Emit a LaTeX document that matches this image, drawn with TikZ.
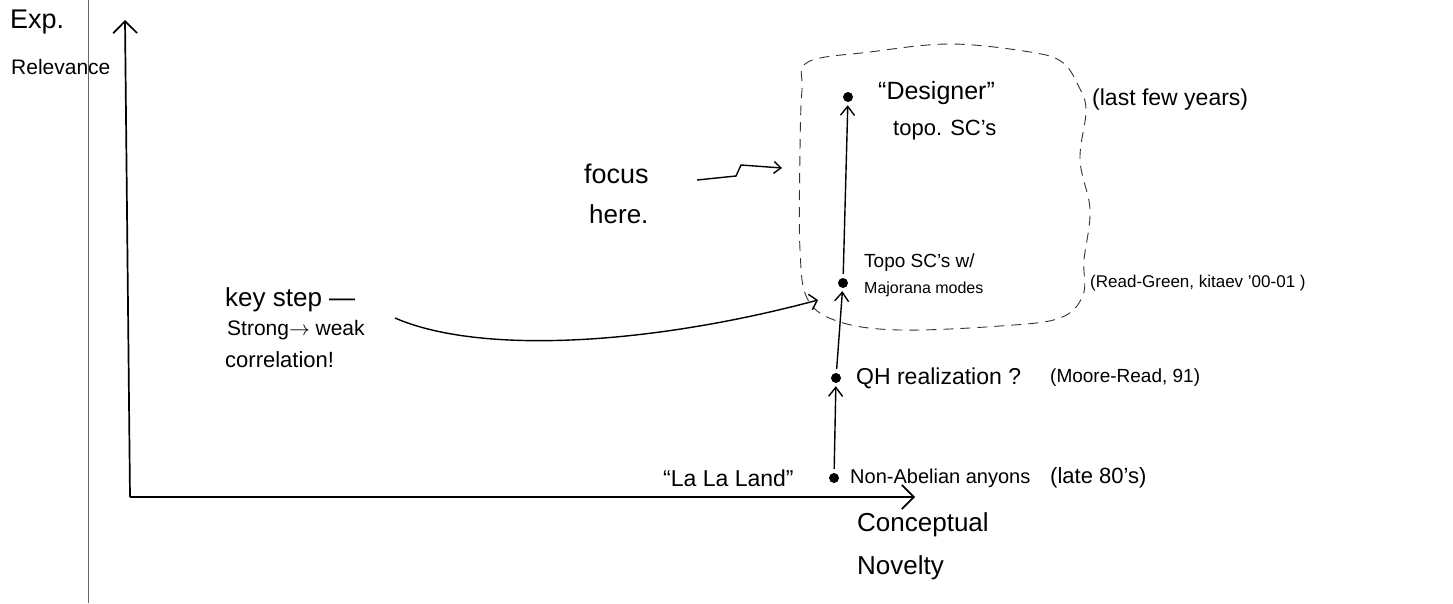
\documentclass[tikz,border=0pt]{standalone}
\usepackage{fontspec}
\setmainfont{Liberation Sans}
\usetikzlibrary{arrows.meta}
\newcommand{\fs}[1]{\fontsize{#1}{#1}\selectfont}
\begin{document}
\begin{tikzpicture}[x=1pt,y=-1pt,
  txt/.style={inner sep=0pt, anchor=west, font=\fs{18}},
  dot/.style={circle, fill=black, inner sep=0pt, minimum size=10pt},
  arr/.style={line width=1.4pt, shorten <=4pt, shorten >=3pt, -{Straight Barb[length=9pt,width=14pt]}},
  axis/.style={line width=1.7pt, -{Straight Barb[length=12pt,width=24pt]}},
  blob/.style={line width=0.9pt, dash pattern=on 10pt off 7pt, black!80}
]
\useasboundingbox (0,0) rectangle (1453,603);
\fill[white] (0,0) rectangle (1453,603);
% margin line
\draw[black!60, line width=0.8pt] (88,0) -- (88,603);

% axes
\coordinate (O) at (130,497);
\coordinate (ytop) at (125,20);
\coordinate (xend) at (915,497);
\draw[axis] (O) -- (ytop);
\draw[axis] (O) -- (xend);

\node[txt, font=\fs{27}] (exp) at (10,22) {Exp.};
\node[txt, font=\fs{21}] (rel) at (11,67) {Relevance};
\node[txt, font=\fs{26}] (conc) at (857,525) {Conceptual};
\node[txt, font=\fs{26}] (nov) at (857,568) {Novelty};
\node[txt, font=\fs{23}] (lala) at (663,478) {``La La Land''};

% dots
\node[dot] (na) at (834,478) {};
\node[dot] (qh) at (836,378) {};
\node[dot] (tsc) at (843,283) {};
\node[dot] (des) at (848,97) {};

\node[txt, font=\fs{20}] (natext) at (850,478) {Non-Abelian anyons};
\node[txt, font=\fs{22}] (late) at (1050,478) {(late 80's)};
\node[txt, font=\fs{23}] (qhtext) at (856,378) {QH realization ?};
\node[txt, font=\fs{19}] (mr) at (1050,378) {(Moore-Read, 91)};
\node[txt, font=\fs{19}] (tsctext1) at (864,263) {Topo SC's w/};
\node[txt, font=\fs{16}] (tsctext2) at (864,289) {Majorana modes};
\node[txt, font=\fs{17}] (rg) at (1090,283) {(Read-Green, kitaev '00-01 )};
\node[txt, font=\fs{25}] (destext1) at (878,93) {``Designer''};
\node[txt, font=\fs{22}] (destext2) at (893,130) {topo. SC's};
\node[txt, font=\fs{23}] (last) at (1092,100) {(last few years)};

\draw[arr] (na) -- (qh);
\draw[arr] (qh) -- (tsc);
\draw[arr] (tsc) -- (des);

% dashed focus region
\draw[blob] plot[smooth cycle, tension=0.6] coordinates {
  (808,62) (870,52) (950,44) (1030,52) (1062,62) (1078,85) (1086,110)
  (1080,160) (1090,210) (1084,260) (1083,295) (1060,318) (1000,326)
  (900,330) (840,322) (808,300) (800,250) (800,150) (802,90)};

% focus here
\node[txt, font=\fs{27}] (focus) at (584,174) {focus};
\node[txt, font=\fs{26}] (here) at (589,214) {here.};
\coordinate (fa) at (697,180);
\coordinate (fb) at (782,168);
\draw[line width=1.4pt, -{Straight Barb[length=7pt,width=12pt]}] (fa) -- (736,176) -- (741,165) -- (fb);

% key step
\node[txt, font=\fs{26}] (key) at (225,300) {key step ---};
\node[txt, font=\fs{21}] (strong) at (227,330) {Strong$\to$ weak};
\node[txt, font=\fs{22}] (corr) at (225,360) {correlation!};
\coordinate (ks) at (395,318);
\coordinate (ke) at (818,300);
\draw[line width=1.4pt, -{Straight Barb[length=7pt,width=16pt]}] (ks) .. controls (480,355) and (650,345) .. (ke);
\end{tikzpicture}
\end{document}
